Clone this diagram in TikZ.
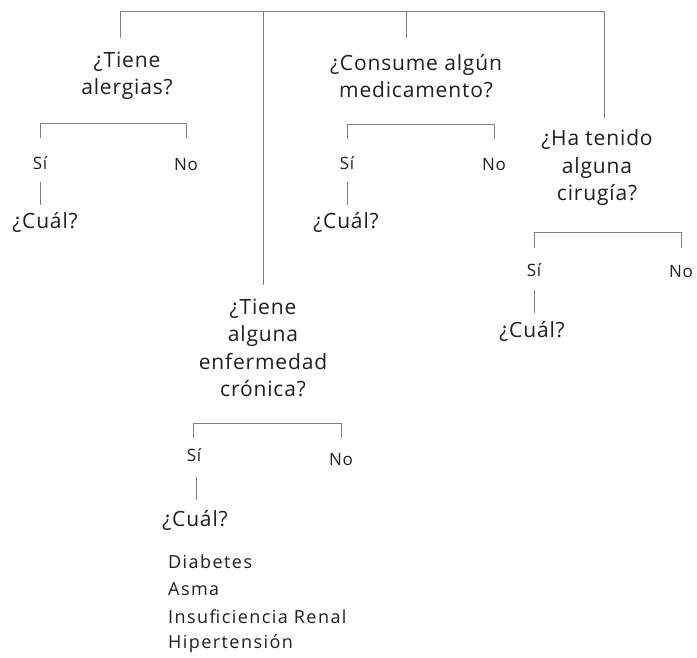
\documentclass[tikz,border=0pt]{standalone}
\usepackage{fontspec}
\setmainfont{Open Sans}[LetterSpace=4]
\newfontfamily\wideos{Open Sans}[LetterSpace=8]
\begin{document}
\begin{tikzpicture}[x=1pt,y=-1pt,
  ln/.style={draw=black!50,line width=0.9pt},
  qbox/.style={align=center,inner sep=0pt,font=\fontsize{21}{27.5}\selectfont,text=black!88},
  ans/.style={inner sep=0pt,font=\fontsize{17}{20}\selectfont,text=black!88},
  cual/.style={inner sep=0pt,font=\fontsize{21}{24}\selectfont,text=black!88},
  item/.style={inner sep=0pt,anchor=west,font=\wideos\fontsize{18}{20}\selectfont,text=black!88}]
\useasboundingbox[fill=white] (0,0) rectangle (697,658);

% questions
\node[qbox] (q1) at (127,76) {¿Tiene\\alergias?};
\node[qbox] (q2) at (416,76) {¿Consume algún\\medicamento?};
\node[qbox] (q3) at (263,348) {¿Tiene\\alguna\\enfermedad\\crónica?};
\node[qbox] (q4) at (597,168) {¿Ha tenido\\alguna\\cirugía?};

% answers
\node[ans] (s1) at (40,163) {Sí};
\node[ans] (n1) at (186,165) {No};
\node[cual] (c1) at (45,222) {¿Cuál?};
\node[ans] (s2) at (347,163) {Sí};
\node[ans] (n2) at (494,165) {No};
\node[cual] (c2) at (346,222) {¿Cuál?};
\node[ans] (s4) at (534,270) {Sí};
\node[ans] (n4) at (681,272) {No};
\node[cual] (c4) at (532,331) {¿Cuál?};
\node[ans] (s3) at (194,455) {Sí};
\node[ans] (n3) at (341,460) {No};
\node[cual] (c3) at (195,520) {¿Cuál?};

\node[item] (i1) at (168,562) {Diabetes};
\node[item] (i2) at (168,589) {Asma};
\node[item] (i3) at (168,617) {Insuficiencia Renal};
\node[item] (i4) at (168,644) {Hipertensión};

% top tree
\coordinate (a1) at (120,38);
\coordinate (a2) at (263,285);
\coordinate (a3) at (406,38);
\coordinate (a4) at (604,118);
\coordinate (t2) at (263,11);
\coordinate (t3) at (406,11);
\draw[ln] (a1) -- ++(0,-27) -| (a4);
\draw[ln] (t2) -- (a2);
\draw[ln] (t3) -- (a3);

% branch bars
\coordinate (b1l) at (40,138); \coordinate (b1r) at (186,138);
\draw[ln] (b1l) -- ++(0,-15) -| (b1r);
\coordinate (b2l) at (347,139); \coordinate (b2r) at (494,139);
\draw[ln] (b2l) -- ++(0,-15) -| (b2r);
\coordinate (b4l) at (534,248); \coordinate (b4r) at (681,248);
\draw[ln] (b4l) -- ++(0,-16) -| (b4r);
\coordinate (b3l) at (193,438); \coordinate (b3r) at (341,438);
\draw[ln] (b3l) -- ++(0,-15) -| (b3r);

% Sí -> ¿Cuál?
\coordinate (y1a) at (40,182); \coordinate (y1b) at (40,205);
\draw[ln] (y1a) -- (y1b);
\coordinate (y2a) at (347,182); \coordinate (y2b) at (347,205);
\draw[ln] (y2a) -- (y2b);
\coordinate (y4a) at (534,290); \coordinate (y4b) at (534,313);
\draw[ln] (y4a) -- (y4b);
\coordinate (y3a) at (196,477); \coordinate (y3b) at (196,500);
\draw[ln] (y3a) -- (y3b);
\end{tikzpicture}
\end{document}
